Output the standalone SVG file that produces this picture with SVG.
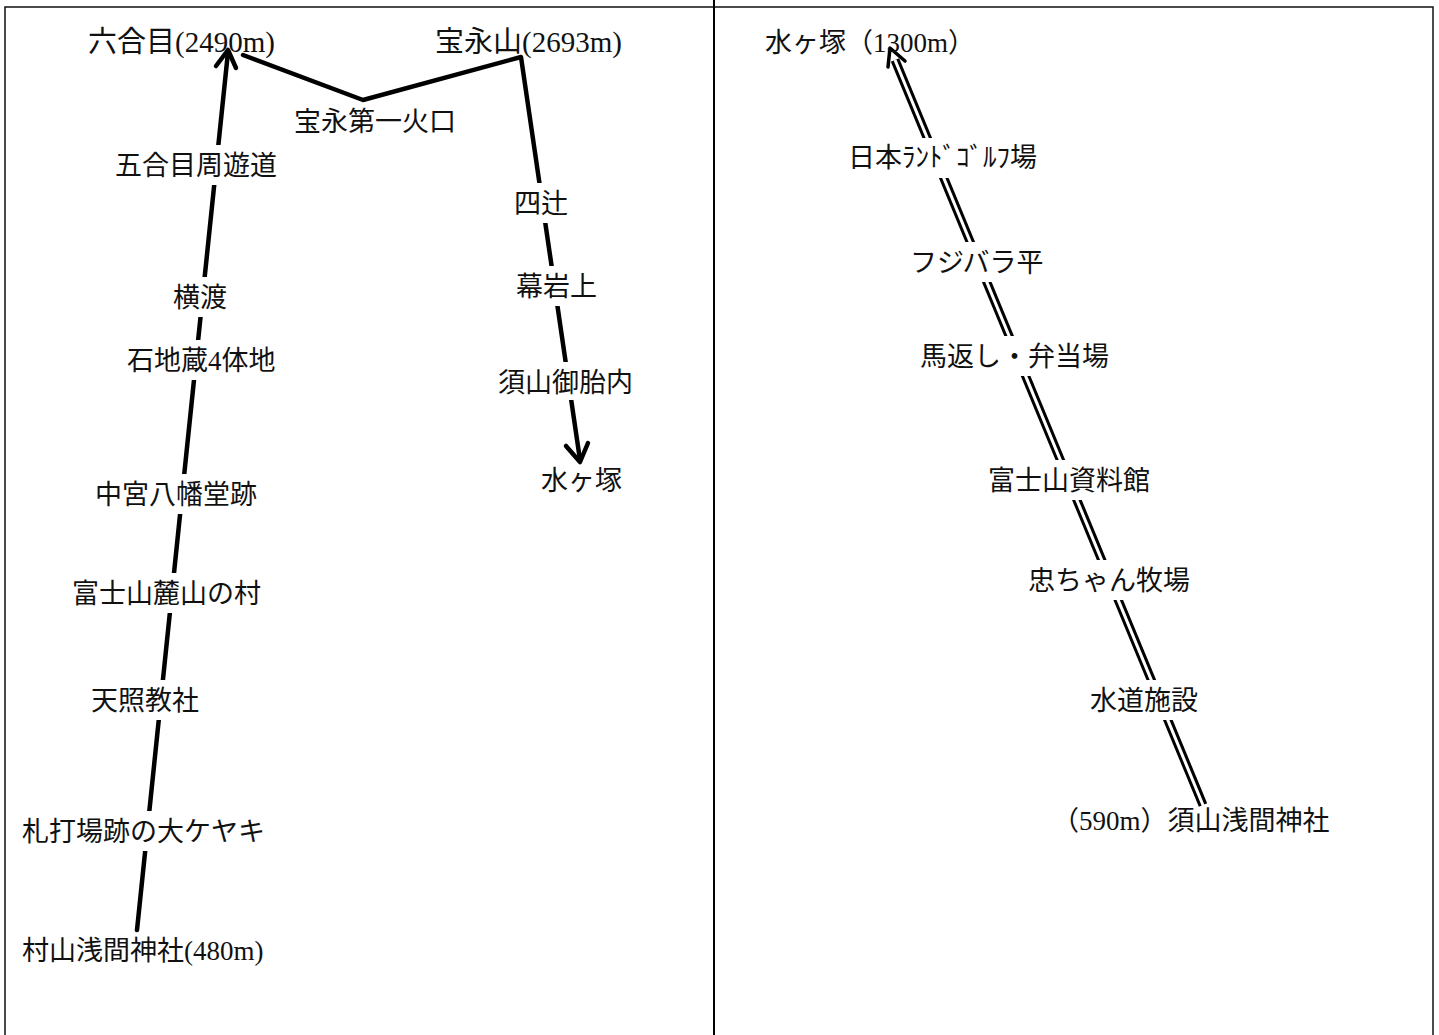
<svg xmlns="http://www.w3.org/2000/svg" width="1439" height="1035" viewBox="0 0 1439 1035">
<style>
  text { font-family: "Liberation Serif", "Noto Sans CJK JP", serif; font-size: 27px; fill: #111; }
  .big { font-size: 29px; }
  .bg { fill: #ffffff; }
  .route { fill: none; stroke: #000; stroke-width: 4.5; stroke-linejoin: round; stroke-linecap: round; }
  .dbl-out { fill: none; stroke: #000; stroke-width: 9; }
  .dbl-in { fill: none; stroke: #fff; stroke-width: 3; }
  .head { fill: none; stroke: #000; stroke-width: 4.5; stroke-linecap: round; stroke-linejoin: round; }
  .head-thin { fill: none; stroke: #000; stroke-width: 3.5; stroke-linecap: round; stroke-linejoin: round; }
  .frame { fill: none; stroke: #111; stroke-width: 1.5; }
</style>
<rect x="0" y="0" width="1439" height="1035" fill="#ffffff"/>
<g id="frame">
  <rect class="frame" x="5" y="7" width="1428" height="1040"/>
  <line x1="714" y1="0" x2="714" y2="1035" stroke="#000" stroke-width="2"/>
</g>
<g id="connectors">
  <polyline class="route" points="137,930 228,52"/>
  <polyline class="head" points="216,66 228,50 236,68"/>
  <polyline class="route" points="243,55 363,100 521,57 580,460"/>
  <polyline class="head" points="566,446 580,462 588,443"/>
  <line class="dbl-out" x1="1203" y1="805" x2="895" y2="60"/>
  <line class="dbl-in" x1="1205" y1="810" x2="895" y2="60"/>
  <polyline class="head-thin" points="905,61 890,48 888,67"/>
</g>
<g id="n-rokugome"><text class="big" x="88" y="52">六合目(2490m)</text></g>
<g id="n-hoeizan"><text class="big" x="435" y="52">宝永山(2693m)</text></g>
<g id="n-hoei-kako"><rect class="bg" x="290" y="105" width="170" height="34"/><text x="294" y="131">宝永第一火口</text></g>
<g id="n-gogome"><rect class="bg" x="111" y="145" width="170" height="40"/><text x="115" y="175">五合目周遊道</text></g>
<g id="n-yotsutsuji"><rect class="bg" x="510" y="183" width="62" height="40"/><text x="514" y="213">四辻</text></g>
<g id="n-yokowatari"><rect class="bg" x="169" y="277" width="62" height="40"/><text x="173" y="307">横渡</text></g>
<g id="n-makuiwa"><rect class="bg" x="512" y="266" width="89" height="40"/><text x="516" y="296">幕岩上</text></g>
<g id="n-ishijizo"><rect class="bg" x="123" y="340" width="160" height="40"/><text x="127" y="370">石地蔵4体地</text></g>
<g id="n-suyama-otainai"><rect class="bg" x="494" y="362" width="143" height="38"/><text x="498" y="392">須山御胎内</text></g>
<g id="n-mizugatsuka-l"><text x="541" y="490">水ヶ塚</text></g>
<g id="n-nakamiya"><rect class="bg" x="91" y="474" width="170" height="40"/><text x="95" y="504">中宮八幡堂跡</text></g>
<g id="n-sanroku"><rect class="bg" x="68" y="573" width="197" height="40"/><text x="72" y="603">富士山麓山の村</text></g>
<g id="n-tenshokyo"><rect class="bg" x="87" y="680" width="116" height="40"/><text x="91" y="710">天照教社</text></g>
<g id="n-fudauchi"><rect class="bg" x="18" y="811" width="254" height="40"/><text x="22" y="841">札打場跡の大ケヤキ</text></g>
<g id="n-murayama"><text x="22" y="960">村山浅間神社(480m)</text></g>
<g id="n-mizugatsuka-r"><text x="765" y="52">水ヶ塚（1300m）</text></g>
<g id="n-golf"><rect class="bg" x="844" y="138" width="194" height="40"/><text x="848" y="167">日本ﾗﾝﾄﾞｺﾞﾙﾌ場</text></g>
<g id="n-fujibara"><rect class="bg" x="906" y="242" width="142" height="40"/><text x="910" y="272">フジバラ平</text></g>
<g id="n-umagaeshi"><rect class="bg" x="916" y="336" width="198" height="40"/><text x="920" y="366">馬返し・弁当場</text></g>
<g id="n-shiryokan"><rect class="bg" x="984" y="460" width="168" height="40"/><text x="988" y="490">富士山資料館</text></g>
<g id="n-chuchan"><rect class="bg" x="1024" y="560" width="172" height="40"/><text x="1028" y="590">忠ちゃん牧場</text></g>
<g id="n-suido"><rect class="bg" x="1086" y="680" width="117" height="40"/><text x="1090" y="710">水道施設</text></g>
<g id="n-suyama-sengen"><text x="1052" y="830">（590m）須山浅間神社</text></g>
</svg>
